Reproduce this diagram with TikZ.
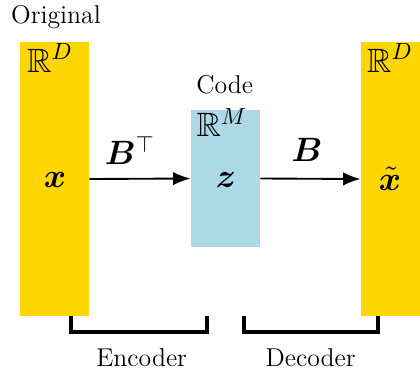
\documentclass[tikz,border=0pt]{standalone}
\usepackage{amsmath,amssymb,bm}
\usepackage{tikz}
\usetikzlibrary{arrows.meta,positioning}
\definecolor{DataGold}{HTML}{FFD700}
\definecolor{CodeBlue}{HTML}{ADD8E6}

\begin{document}
\begin{tikzpicture}[>={Latex[length=2.6mm,width=2mm]}, every node/.style={font=\fontsize{11}{13}\selectfont}]
    \useasboundingbox (0,0) rectangle (6.3,5.565);

    % Data space (left)
    \node[fill=DataGold, minimum width=1.035cm, minimum height=4.11cm, inner sep=0pt] (orig) at (0.8175,2.88) {};
    \node[font=\Large] (origspace) at (0.75,4.695) {$\mathbb{R}^D$};
    \node[font=\Large] (xin) at (0.825,2.865) {$\bm{x}$};
    \node (origlabel) at (0.84,5.31) {Original};

    % Code space (middle)
    \node[fill=CodeBlue, minimum width=1.035cm, minimum height=2.055cm, inner sep=0pt] (code) at (3.3825,2.8875) {};
    \node[font=\Large] (codespace) at (3.33,3.7275) {$\mathbb{R}^M$};
    \node[font=\Large] (zcode) at (3.39,2.865) {$\bm{z}$};
    \node (codelabel) at (3.37,4.29) {Code};

    % Data space (right, reconstruction)
    \node[fill=DataGold, minimum width=1.035cm, minimum height=4.11cm, inner sep=0pt] (recon) at (5.9325,2.88) {};
    \node[font=\Large] (reconspace) at (5.85,4.695) {$\mathbb{R}^D$};
    \node[font=\Large] (xout) at (5.85,2.88) {$\tilde{\bm{x}}$};

    % Mappings
    \draw[->, thick] (orig.east) -- (code.west);
    \node[font=\Large] (enc) at (1.95,3.315) {$\bm{B}^{\top}$};
    \draw[->, thick] (code.east) -- (recon.west);
    \node[font=\Large] (dec) at (4.605,3.315) {$\bm{B}$};

    % Brackets
    \draw[line width=1.5pt] (1.065,0.825) -- (1.065,0.585) -- (3.105,0.585) -- (3.105,0.825);
    \node (enclabel) at (2.125,0.195) {Encoder};
    \draw[line width=1.5pt] (3.66,0.825) -- (3.66,0.585) -- (5.67,0.585) -- (5.67,0.825);
    \node (declabel) at (4.66,0.195) {Decoder};

\end{tikzpicture}
\end{document}
